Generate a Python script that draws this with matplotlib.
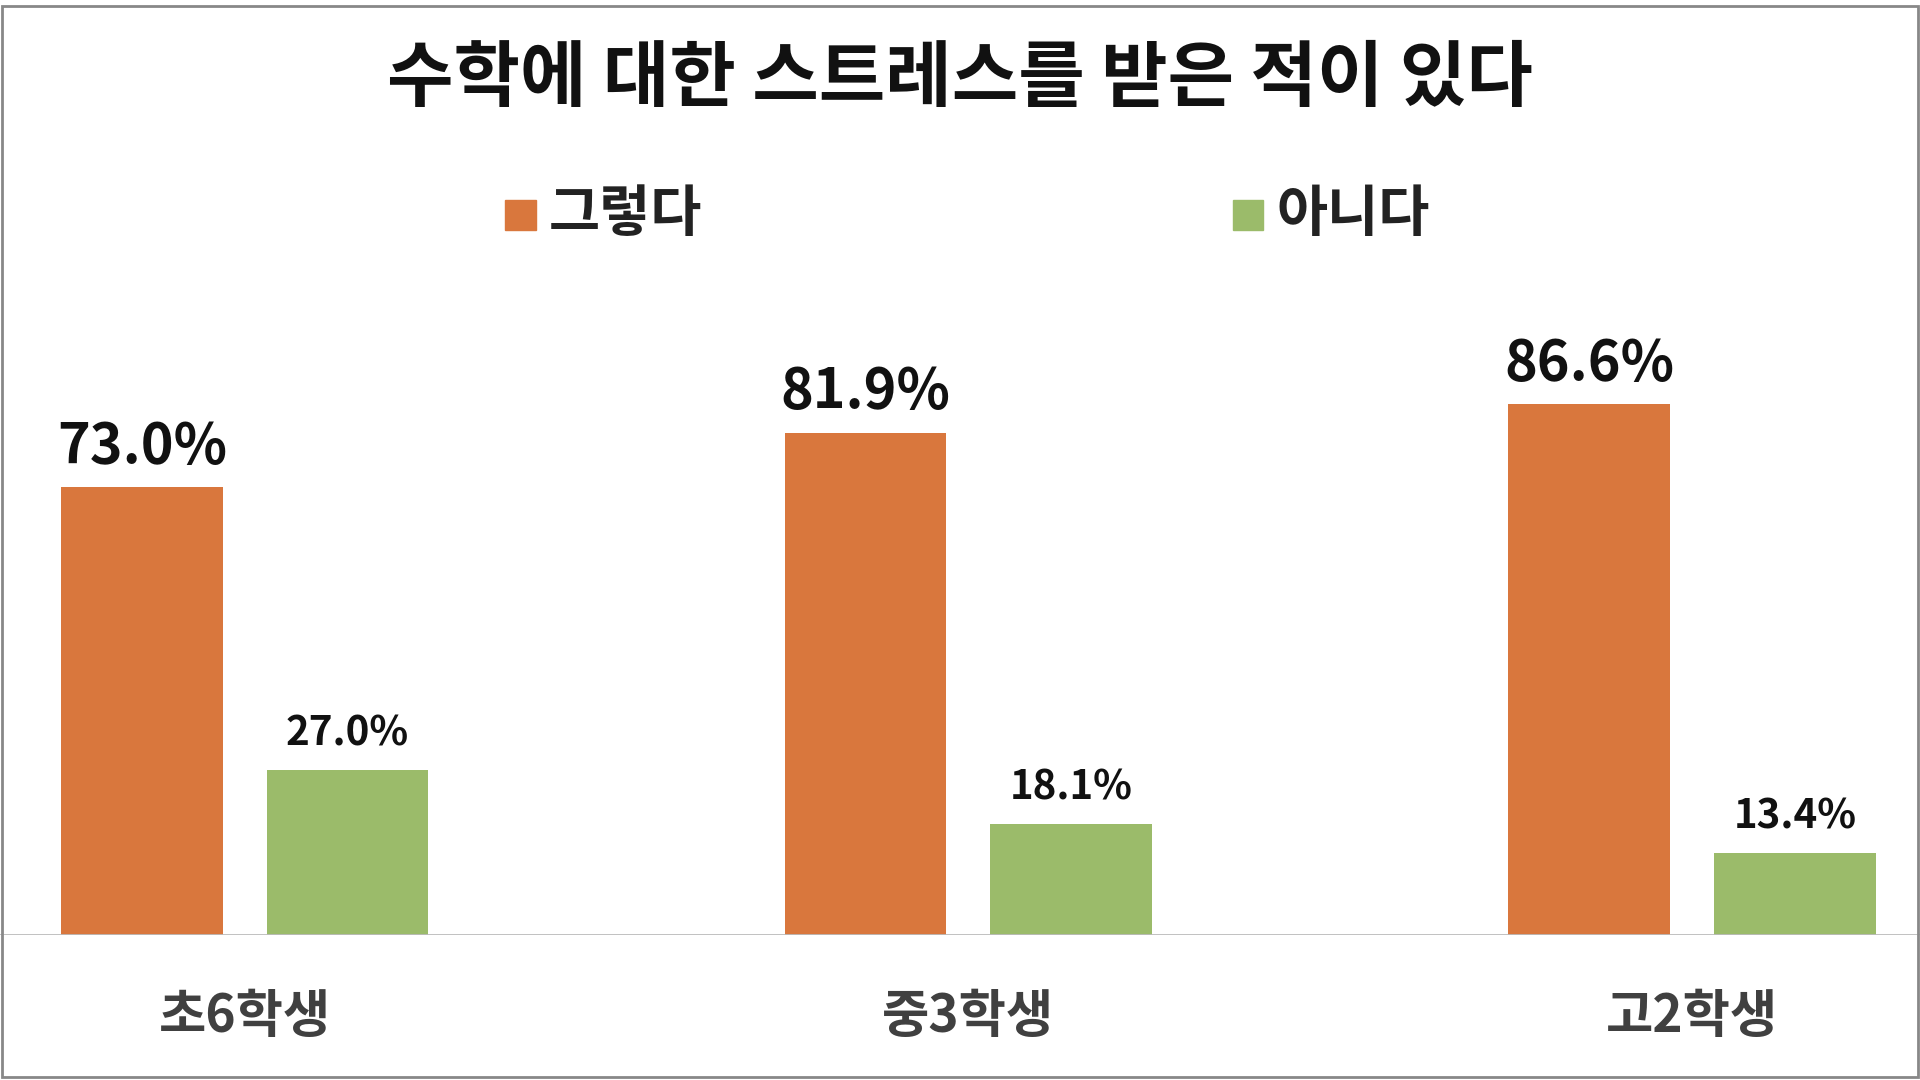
import matplotlib
matplotlib.use("Agg")
import matplotlib.pyplot as plt
from matplotlib.patches import Rectangle

plt.rcParams['font.family'] = ['Noto Sans CJK KR', 'DejaVu Sans']

categories = ["초6학생", "중3학생", "고2학생"]
yes_vals = [73.0, 81.9, 86.6]
no_vals = [27.0, 18.1, 13.4]
series_names = ["그렇다", "아니다"]
title = "수학에 대한 스트레스를 받은 적이 있다"
c_yes, c_no = "#D9773D", "#9BBB6A"

fig = plt.figure(figsize=(19.2, 10.8), dpi=100)
ax = fig.add_axes([0, 0.134, 1, 0.866])
x = list(range(len(categories)))
w, off = 0.2234, 0.142
ax.bar([i - off for i in x], yes_vals, w, color=c_yes)
ax.bar([i + off for i in x], no_vals, w, color=c_no)
for i in x:
    ax.text(i - off, yes_vals[i] + 2, f"{yes_vals[i]:.1f}%", ha="center", va="bottom",
            fontsize=40, fontweight="bold", color="#111111")
    ax.text(i + off, no_vals[i] + 2.5, f"{no_vals[i]:.1f}%", ha="center", va="bottom",
            fontsize=29, fontweight="bold", color="#111111")
ax.set_xlim(-0.338, 2.315)
ax.set_ylim(0, 152.4)
ax.axis("off")
ax.axhline(0, color="#BBBBBB", lw=2)
for i, c in enumerate(categories):
    fig.text((i + 0.338) / 2.653, 0.059, c, ha="center", va="center", fontsize=37,
             fontweight="bold", color="#404040")

fig.text(0.5, 0.926, title, ha="center", va="center", fontsize=52, fontweight="bold", color="#111111")
for xs, name, col in [(0.271, series_names[0], c_yes), (0.65, series_names[1], c_no)]:
    fig.patches.append(Rectangle((xs - 0.008, 0.787), 0.016, 0.028, color=col, transform=fig.transFigure))
    fig.text(xs + 0.015, 0.801, name, ha="left", va="center", fontsize=40, fontweight="bold", color="#222222")

fig.patches.append(Rectangle((0.001, 0.003), 0.998, 0.991, fill=False, edgecolor="#888888", lw=2,
                             transform=fig.transFigure))
fig.savefig("out.png")
